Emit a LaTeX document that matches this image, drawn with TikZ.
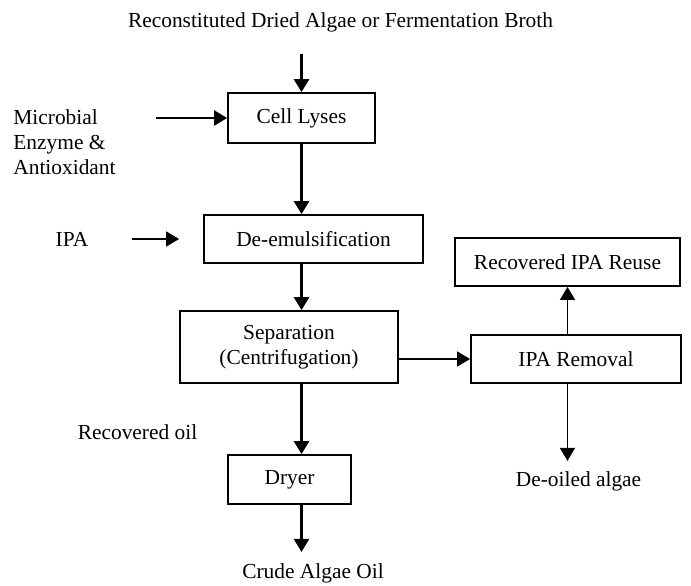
\documentclass[tikz,border=0pt]{standalone}
\usepackage{fontspec}
\setmainfont{Liberation Serif}
\usetikzlibrary{arrows.meta,positioning}
\begin{document}
\begin{tikzpicture}[x=0.5pt,y=-0.5pt,>={Triangle[length=6.5pt,width=7.5pt]},font=\fontsize{10.7}{12.5}\selectfont]
	\tikzstyle{box}=[draw,line width=0.9pt,inner sep=0pt]
	\tikzstyle{lbl}=[inner sep=0pt]
	\tikzstyle{flow}=[->,line width=1.3pt]
	\tikzstyle{thinflow}=[->,line width=0.7pt]
	\useasboundingbox (0,0) rectangle (691,585);
	\node[lbl]                                           (feed)  at (340.5,22)  {Reconstituted Dried Algae or Fermentation Broth};
	\node[box,minimum width=73.5pt,minimum height=25pt]  (lyse)  at (301.5,118) {Cell Lyses};
	\node[lbl,align=left,anchor=west]                    (enz)   at (13,142)    {Microbial\\Enzyme \&\\Antioxidant};
	\node[box,minimum width=109.5pt,minimum height=24pt] (demul) at (313.5,239) {De-emulsification};
	\node[lbl]                                           (ipa)   at (72,239)    {IPA};
	\node[box,minimum width=109pt,minimum height=36pt,align=center] (sep) at (289,347) {Separation\\(Centrifugation)};
	\node[box,minimum width=112.5pt,minimum height=24pt] (reuse) at (567.5,262) {Recovered IPA Reuse};
	\node[box,minimum width=105pt,minimum height=24pt]   (ipar)  at (576,359)   {IPA Removal};
	\node[lbl]                                           (oil)   at (137.5,432) {Recovered oil};
	\node[box,minimum width=61.5pt,minimum height=24.5pt] (dryer) at (289.5,479.5) {Dryer};
	\node[lbl]                                           (crude) at (313,573)   {Crude Algae Oil};
	\node[lbl]                                           (deoil) at (578.5,481) {De-oiled algae};
	% main line
	\draw[flow] ([yshift=-10.7pt]feed.south -| lyse.north) -- (lyse.north);
	\draw[flow] ([xshift=20pt]enz.east |- lyse.west) -- (lyse.west);
	\draw[flow] (lyse.south) -- (lyse.south |- demul.north);
	\draw[thinflow,shorten <=21.5pt,shorten >=12pt] (ipa) -- (demul);
	\draw[flow] (lyse.south |- demul.south) -- (lyse.south |- sep.north);
	\draw[flow] (lyse.south |- sep.south) -- (lyse.south |- dryer.north);
	\draw[flow,shorten >=5.5pt] (lyse.south |- dryer.south) -- (lyse.south |- crude.north);
	% IPA side
	\draw[thinflow] (sep.east |- ipar.west) -- (ipar.west);
	\draw[thinflow] (ipar.north -| reuse.south) -- (reuse.south);
	\draw[thinflow,shorten >=5pt] (ipar.south -| reuse.south) -- (deoil.north -| reuse.south);
\end{tikzpicture}
\end{document}
